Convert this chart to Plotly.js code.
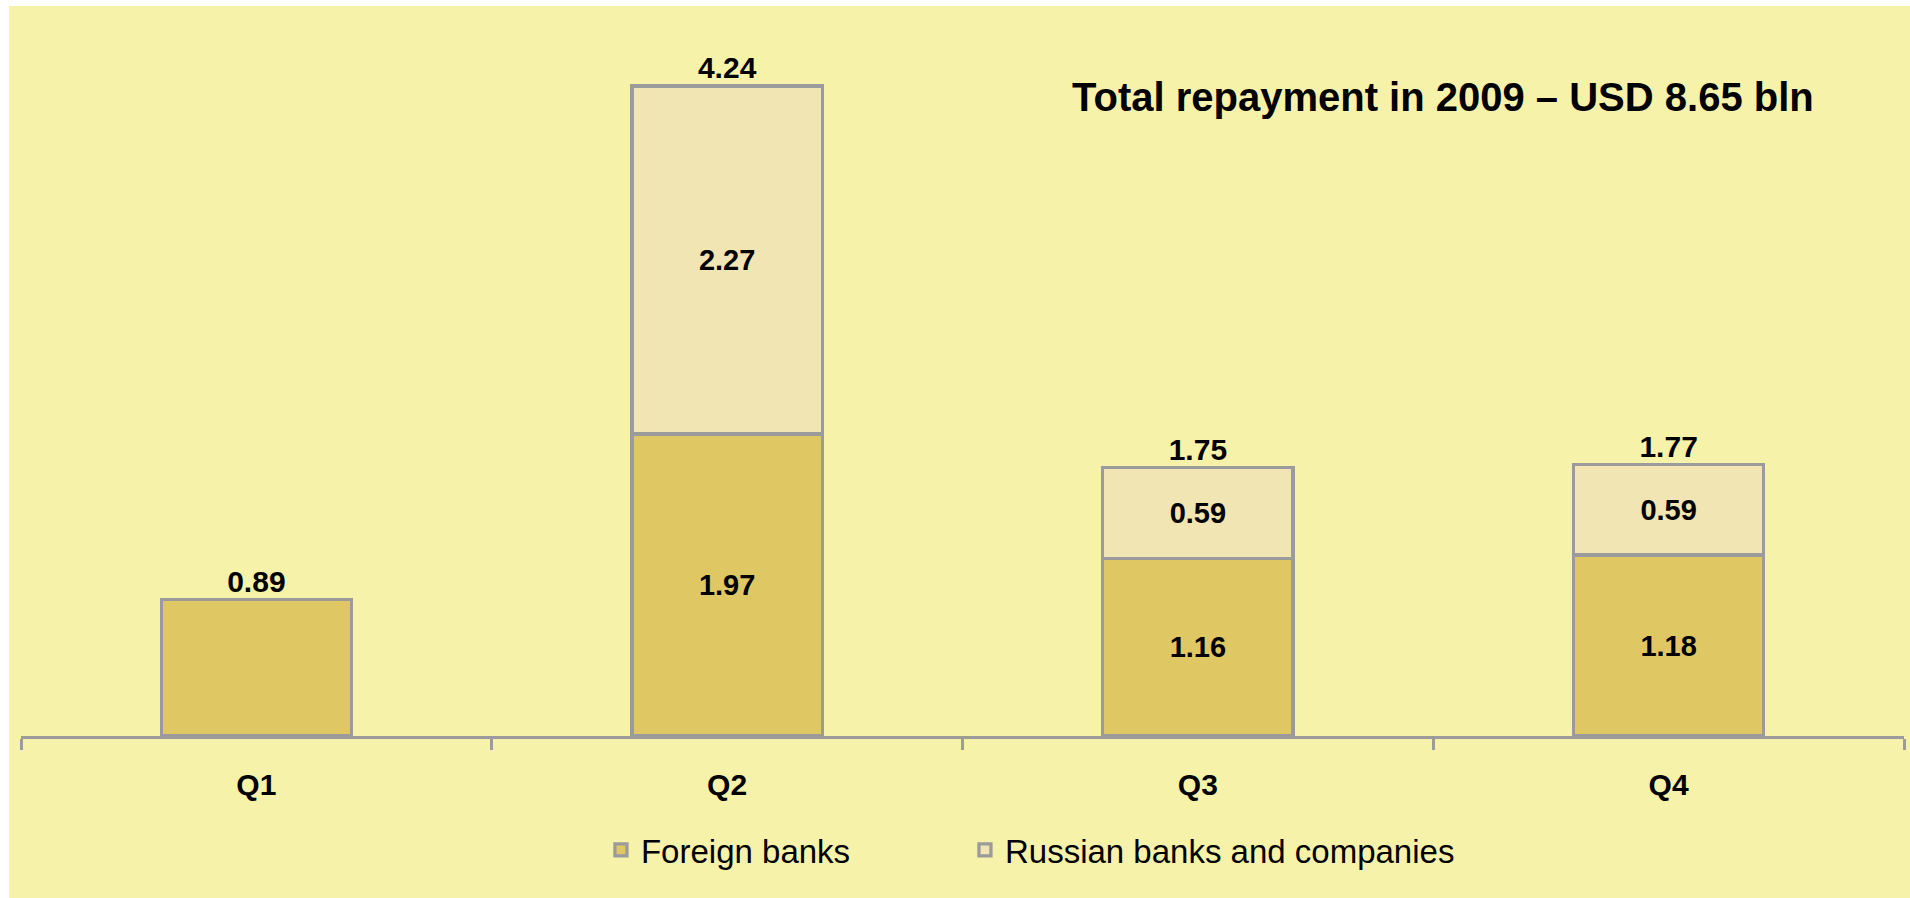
<!DOCTYPE html>
<html>
<head>
<meta charset="utf-8">
<script src="https://cdn.plot.ly/plotly-3.0.1.min.js"></script>
<style>
html,body{margin:0;padding:0;background:#ffffff;width:1910px;height:898px;overflow:hidden;}
#chart{position:absolute;left:9px;top:6px;width:1901px;height:892px;}
</style>
</head>
<body>
<div id="chart"></div>
<script>
const categories = ["Q1", "Q2", "Q3", "Q4"];
const foreignBanks = [0.89, 1.97, 1.16, 1.18];
const russianBanks = [0, 2.27, 0.59, 0.59];
const totals = [0.89, 4.24, 1.75, 1.77];
const showInside = [false, true, true, true];
const seriesNames = ["Foreign banks", "Russian banks and companies"];
const titleText = "Total repayment in 2009 – USD 8.65 bln";

const FONT = '"Liberation Sans", Arial, sans-serif';
const BORDER = "#9b9b9b";

const fmt = (v, i) => (showInside[i] && v) ? v.toFixed(2) : "";

const traces = [
  {
    type: "bar", name: seriesNames[0], x: categories, y: foreignBanks, legend: "legend",
    text: foreignBanks.map(fmt), textposition: "inside", insidetextanchor: "middle",
    textangle: 0, constraintext: "none",
    textfont: {family: FONT, size: 29, color: "#000000", weight: "bold"},
    marker: {color: "#dfc764", line: {color: BORDER, width: 3.3}},
    hoverinfo: "skip"
  },
  {
    type: "bar", name: seriesNames[1], x: categories, y: russianBanks.map(v => v || null), legend: "legend2",
    text: russianBanks.map(fmt), textposition: "inside", insidetextanchor: "middle",
    textangle: 0, constraintext: "none",
    textfont: {family: FONT, size: 29, color: "#000000", weight: "bold"},
    marker: {color: "#f1e5b3", line: {color: BORDER, width: 3.3}},
    hoverinfo: "skip"
  },
  {
    type: "scatter", mode: "text", x: categories, y: totals,
    text: totals.map(v => v.toFixed(2)), textposition: "top center",
    textfont: {family: FONT, size: 30, color: "#000000", weight: "bold"},
    showlegend: false, hoverinfo: "skip", cliponaxis: false
  }
];

const legendBase = {
  orientation: "h", xanchor: "left", y: -0.159, yanchor: "middle",
  bgcolor: "rgba(0,0,0,0)",
  font: {family: FONT, size: 33, color: "#000000"}
};

const layout = {
  width: 1901, height: 892,
  paper_bgcolor: "#f7f2aa", plot_bgcolor: "#f7f2aa",
  margin: {l: 12, r: 6, t: 14, b: 162},
  barmode: "stack", bargap: 0.596,
  font: {family: FONT, color: "#000000"},
  xaxis: {
    type: "category", range: [-0.5, 3.5], fixedrange: true,
    showline: true, linecolor: BORDER, linewidth: 3,
    ticks: "outside", tickson: "boundaries", ticklen: 11, tickwidth: 3, tickcolor: BORDER,
    ticklabelstandoff: 20,
    tickfont: {family: FONT, size: 30, color: "#000000", weight: "bold"},
    showgrid: false, zeroline: false
  },
  yaxis: {
    range: [0, 4.67], visible: false, showgrid: false, zeroline: false, fixedrange: true
  },
  showlegend: true,
  legend: Object.assign({}, legendBase, {x: 0.308}),
  legend2: Object.assign({}, legendBase, {x: 0.5013}),
  annotations: [{
    text: titleText, xref: "paper", yref: "paper", x: 0.7552, y: 0.8925,
    xanchor: "center", yanchor: "middle", showarrow: false,
    font: {family: FONT, size: 40, color: "#000000", weight: "bold"}
  }]
};

Plotly.newPlot("chart", traces, layout, {displayModeBar: false, staticPlot: true});
</script>
</body>
</html>
